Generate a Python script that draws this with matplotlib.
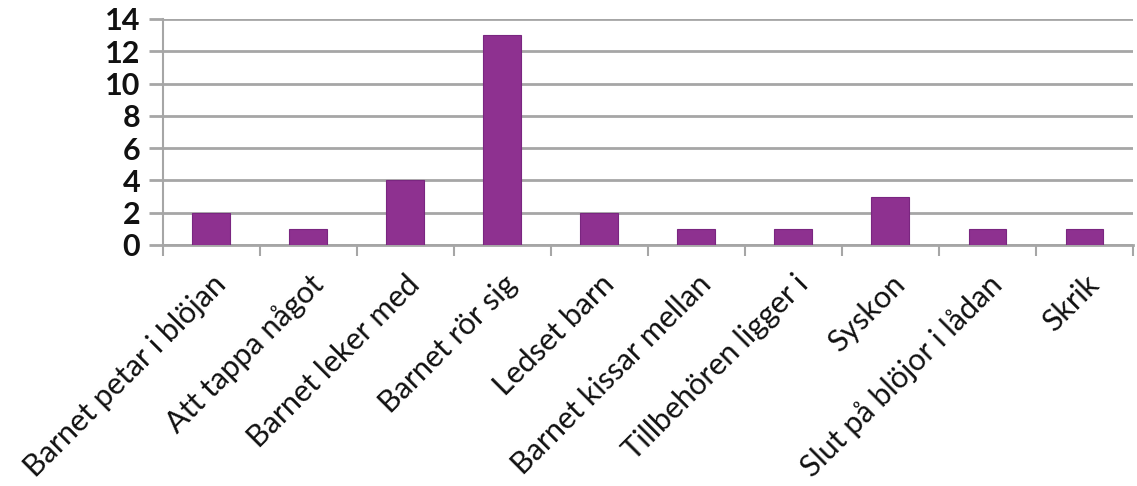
import matplotlib
matplotlib.use("Agg")
import matplotlib.pyplot as plt
import numpy as np

categories = ["Barnet petar i blöjan", "Att tappa något", "Barnet leker med",
              "Barnet rör sig", "Ledset barn", "Barnet kissar mellan",
              "Tillbehören ligger i", "Syskon", "Slut på blöjor i lådan", "Skrik"]
values = [2, 1, 4, 13, 2, 1, 1, 3, 1, 1]
yticks = [0, 2, 4, 6, 8, 10, 12, 14]

fig = plt.figure(figsize=(11.37, 4.86), dpi=100)
ax = fig.add_axes([0.143, 0.496, 0.8535, 0.465])

x = np.arange(len(categories))
ax.bar(x, values, width=0.39, color="#8E3190", edgecolor="#7A2680", linewidth=0.8, zorder=3)

ax.set_xlim(-0.5, len(categories) - 0.5)
ax.set_ylim(0, 14)
ax.set_yticks(yticks)
ax.set_yticklabels([str(v) for v in yticks], fontsize=22, family="Lato",
                   fontweight="bold", color="#111111")
ax.yaxis.grid(True, color="#A6A6A6", linewidth=2, zorder=0)
ax.tick_params(axis="y", length=10, width=2, color="#A6A6A6", pad=6)

ax.set_xticks(np.arange(len(categories) + 1) - 0.5)
ax.set_xticklabels([])
ax.tick_params(axis="x", length=8, width=1.5, color="#A6A6A6", direction="out")
ax.set_xticks(x, minor=True)
ax.set_xticklabels(categories, minor=True, rotation=45, ha="right",
                   rotation_mode="anchor", fontsize=22, family="Lato",
                   color="#111111")
ax.tick_params(axis="x", which="minor", length=0, pad=18)

for s in ["top", "right"]:
    ax.spines[s].set_visible(False)
ax.spines["left"].set_color("#A6A6A6")
ax.spines["left"].set_linewidth(1.5)
ax.spines["bottom"].set_color("#A6A6A6")
ax.spines["bottom"].set_linewidth(2)

fig.savefig("out.png", dpi=100)
